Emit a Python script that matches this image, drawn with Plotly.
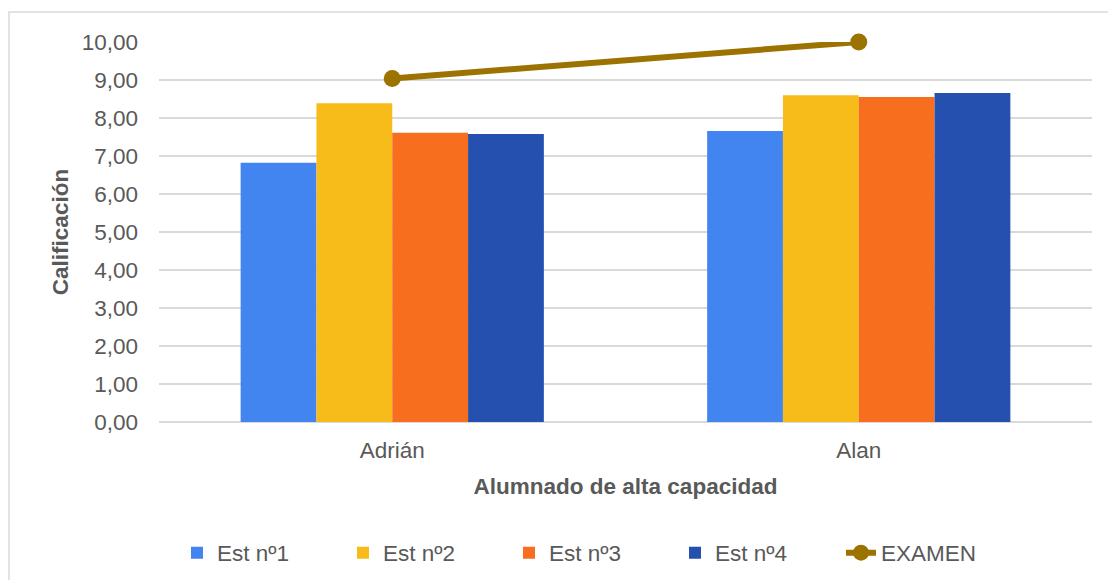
import plotly.graph_objects as go

categories = ["Adrián", "Alan"]
est1 = [6.82, 7.66]
est2 = [8.39, 8.60]
est3 = [7.61, 8.55]
est4 = [7.58, 8.66]
examen = [9.04, 10.00]
series_names = ["Est nº1", "Est nº2", "Est nº3", "Est nº4", "EXAMEN"]
tick_vals = [0, 1, 2, 3, 4, 5, 6, 7, 8, 9, 10]
tick_text = ["0,00", "1,00", "2,00", "3,00", "4,00", "5,00", "6,00", "7,00", "8,00", "9,00", "10,00"]

bar_colors = ["#4385F0", "#F7BC1A", "#F76E1E", "#2550B0"]
FONT = "Liberation Sans, Arial, sans-serif"
GREY = "#595959"
FS = 22.5

fig = go.Figure()
for name, vals, col in zip(series_names[:4], [est1, est2, est3, est4], bar_colors):
    fig.add_trace(go.Bar(x=categories, y=vals, name=name,
                         marker=dict(color=col, line=dict(width=0))))
fig.add_trace(go.Scatter(x=categories, y=examen, name=series_names[4],
                         mode="lines+markers", cliponaxis=False,
                         line=dict(color="#9C7300", width=6),
                         marker=dict(color="#9C7300", size=17)))

W, H = 1108, 580
l, r, t, b = 159, 16, 42, 158
pw = W - l - r
ph = H - t - b

fig.update_layout(
    width=W, height=H,
    margin=dict(l=l, r=r, t=t, b=b, autoexpand=False),
    paper_bgcolor="white", plot_bgcolor="white",
    barmode="group", bargap=0.35, bargroupgap=0,
    font=dict(family=FONT, size=FS, color=GREY),
    showlegend=True,
    legend=dict(orientation="h", x=(177 - l) / pw, xanchor="left",
                y=-(553 - 422) / ph, yanchor="middle",
                font=dict(family=FONT, size=FS, color=GREY),
                entrywidth=121, traceorder="normal", itemwidth=30),
    xaxis=dict(title=dict(text="<b>Alumnado de alta capacidad</b>", standoff=16,
                          font=dict(size=FS, color=GREY)),
               automargin=False,
               showgrid=False, zeroline=False, showline=False,
               ticks="", ticklabelstandoff=12,
               tickfont=dict(size=FS, color=GREY)),
    yaxis=dict(title=dict(text="<b>Calificación</b>", standoff=6,
                          font=dict(size=FS, color=GREY)),
               automargin=False,
               range=[0, 10], tickvals=tick_vals, ticktext=tick_text,
               showgrid=True, gridcolor="#D9D9D9", gridwidth=2,
               zeroline=True, zerolinecolor="#D9D9D9", zerolinewidth=2,
               showline=False, ticks="", ticklabelstandoff=20,
               tickfont=dict(size=FS, color=GREY)),
    shapes=[dict(type="rect", xref="paper", yref="paper",
                 x0=(9 - l) / pw, x1=(W + 20 - l) / pw,
                 y0=-(H + 20 - t - ph) / ph, y1=1 + (t - 12) / ph,
                 line=dict(color="#D9D9D9", width=1.5), layer="below")],
)

fig.write_html("out.html")
